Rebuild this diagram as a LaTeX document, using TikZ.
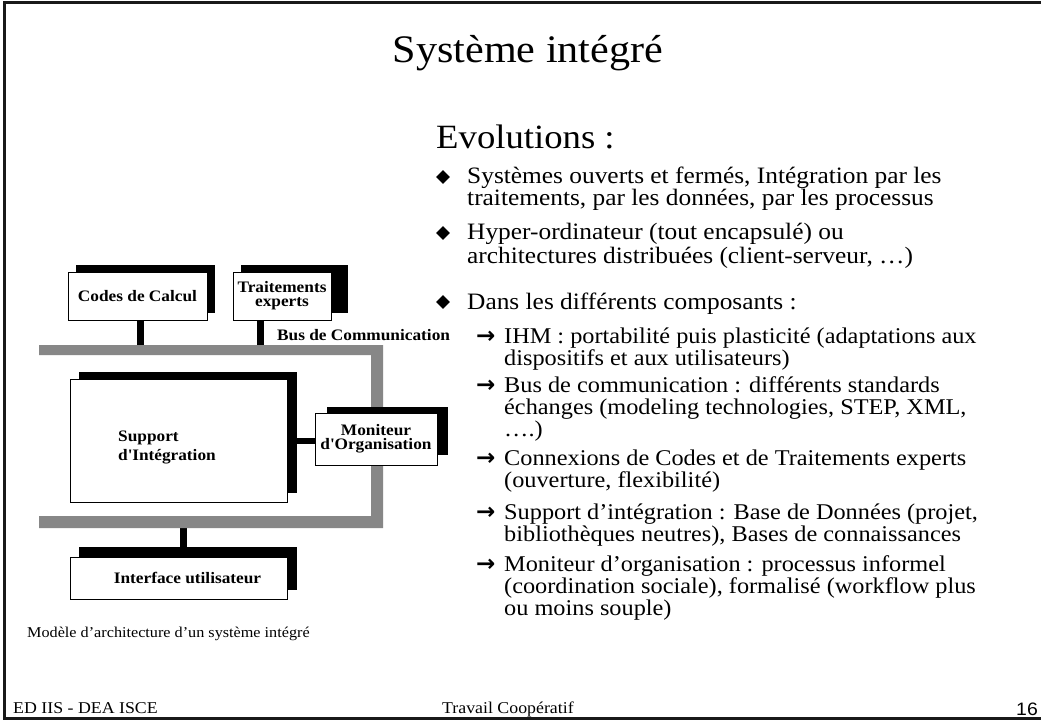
\documentclass[tikz,border=0pt]{standalone}
\usepackage{fontspec}
\setmainfont{Liberation Serif}[FakeStretch=1.08]
\newfontfamily\pagenumfont{Liberation Sans}[FakeStretch=1.08]
\newfontfamily\symfont{DejaVu Sans}
\usetikzlibrary{shapes.geometric}

\begin{document}
\begin{tikzpicture}[x=1pt,y=-1pt,
  frontbox/.style={draw=black, line width=1pt, fill=white, inner sep=0pt,
    font=\fontsize{16}{15}\selectfont\bfseries, align=center},
  shadowfill/.style={fill=black},
  boxlabel/.style={inner sep=0pt, font=\fontsize{16}{19}\selectfont\bfseries, align=left},
  busband/.style={fill=black!47},
  link/.style={draw=black, line width=7pt},
  titletext/.style={anchor=base, inner sep=0pt, font=\fontsize{39}{40}\selectfont},
  headtext/.style={anchor=base west, inner sep=0pt, font=\fontsize{34}{34}\selectfont},
  mainline/.style={anchor=base west, inner sep=0pt, font=\fontsize{23.5}{24}\selectfont},
  subline/.style={anchor=base west, inner sep=0pt, font=\fontsize{22.5}{22}\selectfont},
  bulletmark/.style={diamond, fill=black, inner sep=0pt, minimum width=14pt, minimum height=14pt},
  arrowmark/.style={anchor=base west, inner sep=0pt, font=\symfont\bfseries\fontsize{23}{23}\selectfont},
  smalltext/.style={anchor=base west, inner sep=0pt, font=\fontsize{15}{16}\selectfont},
  foottext/.style={anchor=base west, inner sep=0pt, font=\fontsize{16.5}{17}\selectfont}
]
\clip (0,0) rectangle (1041,722);
\fill[white] (0,0) rectangle (1041,722);

% slide frame (open on the right)
\draw[line width=3pt, black!90] (1046,2.5) -- (4.5,2.5) -- (4.5,718.5) -- (1046,718.5);

% title and heading
\node[titletext] (title) at (528,63) {Système intégré};
\node[headtext] (evol) at (436,149) {Evolutions :};

% first-level bullets
\node[bulletmark] (b1) at (443,177) {};
\node[mainline] (l1a) at (467,184) {Systèmes ouverts et fermés, Intégration par les};
\node[mainline] (l1b) at (467,206) {traitements, par les données, par les processus};
\node[bulletmark] (b2) at (443,233) {};
\node[mainline] (l2a) at (467,240) {Hyper-ordinateur (tout encapsulé) ou};
\node[mainline] (l2b) at (467,263) {architectures distribuées (client-serveur, …)};
\node[bulletmark] (b3) at (443,302) {};
\node[mainline] (l3a) at (467,309) {Dans les différents composants :};

% second-level items
\node[arrowmark] (a1) at (476,343) {→};
\node[subline] (s1a) at (504,343) {IHM : portabilité puis plasticité (adaptations aux};
\node[subline] (s1b) at (504,365) {dispositifs et aux utilisateurs)};
\node[arrowmark] (a2) at (476,392) {→};
\node[subline] (s2a) at (504,392) {Bus de communication : différents standards};
\node[subline] (s2b) at (504,414) {échanges (modeling technologies, STEP, XML,};
\node[subline] (s2c) at (504,436) {….)};
\node[arrowmark] (a3) at (476,465) {→};
\node[subline] (s3a) at (504,465) {Connexions de Codes et de Traitements experts};
\node[subline] (s3b) at (504,487) {(ouverture, flexibilité)};
\node[arrowmark] (a4) at (476,519) {→};
\node[subline] (s4a) at (504,519) {Support d’intégration : Base de Données (projet,};
\node[subline] (s4b) at (504,541) {bibliothèques neutres), Bases de connaissances};
\node[arrowmark] (a5) at (476,571) {→};
\node[subline] (s5a) at (504,571) {Moniteur d’organisation : processus informel};
\node[subline] (s5b) at (504,593) {(coordination sociale), formalisé (workflow plus};
\node[subline] (s5c) at (504,615) {ou moins souple)};

% bus reference lines
\coordinate (busTop) at (0,350);
\coordinate (busBottom) at (0,522);

% box outlines (placed first so the links can refer to them)
\path (137.5,296) node[minimum width=139pt, minimum height=48pt] (codes) {}
      (282,296)   node[minimum width=98pt,  minimum height=48pt] (trait) {}
      (178.5,440.5) node[minimum width=217pt, minimum height=123pt] (support) {}
      (376,439)   node[minimum width=122pt, minimum height=52pt] (monit) {}
      (178.5,578) node[minimum width=217pt, minimum height=42pt] (iface) {};

% links to the bus
\draw[link] ([xshift=3pt]codes.south) -- ([xshift=3pt]codes.south |- busTop);
\draw[link] ([xshift=27.5pt]trait.south west) -- ([xshift=27.5pt]trait.south west |- busTop);
\draw[link] ([xshift=5pt]iface.north) -- ([xshift=5pt]iface.north |- busBottom);
\draw[draw=black, line width=6pt] (support.east) -- (support.east -| monit.west);

% communication bus
\fill[busband] (39,345) -- (383,345) -- (383,528) -- (39,528) -- (39,516)
   -- (371,516) -- (371,355) -- (39,355) -- cycle;
\node[anchor=base west, inner sep=0pt, font=\fontsize{16}{16}\selectfont\bfseries]
   (buslabel) at (277,340) {Bus de Communication};

% box shadows
\fill[shadowfill] (76,265) rectangle (215,313);
\fill[shadowfill] (241,265) rectangle (348,313);
\fill[shadowfill] (79,372) rectangle (297,493);
\fill[shadowfill] (327,407) rectangle (448,455);
\fill[shadowfill] (79,547) rectangle (297,590);

% boxes
\node[frontbox, minimum width=139pt, minimum height=48pt] at (codes) {Codes de Calcul};
\node[frontbox, minimum width=98pt, minimum height=48pt] at (trait) {Traitements\\[-1pt]experts};
\node[frontbox, minimum width=217pt, minimum height=123pt] at (support) {};
\node[frontbox, minimum width=122pt, minimum height=52pt] at (monit) {Moniteur\\[-1pt]d\textquotesingle Organisation};
\node[frontbox, minimum width=217pt, minimum height=42pt] at (iface) {};
\node[boxlabel] (supportlabel) at (167,447) {Support\\d\textquotesingle Intégration};
\node[boxlabel] (ifacelabel) at (187.5,578) {Interface utilisateur};

% caption and footer
\node[smalltext] (caption) at (27,637) {Modèle d’architecture d’un système intégré};
\node[foottext] (footleft) at (13,713) {ED IIS - DEA ISCE};
\node[foottext] (footmid) at (442,713) {Travail Coopératif};
\node[anchor=base west, inner sep=0pt, font=\pagenumfont\fontsize{18}{18}\selectfont]
   (pagenum) at (1016,715) {16};
\end{tikzpicture}
\end{document}
